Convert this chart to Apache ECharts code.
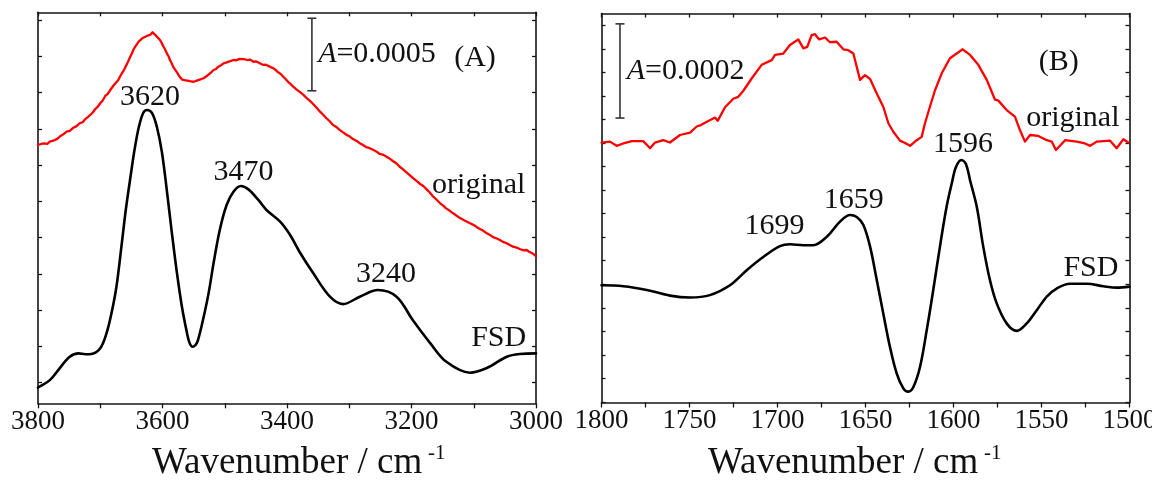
<!DOCTYPE html>
<html>
<head>
<meta charset="utf-8">
<script src="https://cdn.jsdelivr.net/npm/echarts@6/dist/echarts.min.js"></script>
<style>
  html, body { margin: 0; padding: 0; background: #fff; }
  #chart { width: 1152px; height: 484px; }
</style>
</head>
<body>
<div id="chart"></div>
<script>
// ---------- Panel (A): 3800–3000 cm-1 region (absorbance in units of 1e-4, offset) ----------
const wnFsdA = [3800, 3798, 3781, 3765, 3749, 3735, 3724, 3714, 3700, 3690, 3682, 3674, 3666, 3659, 3651, 3645,
  3638, 3631, 3625, 3617, 3609, 3601, 3593, 3585, 3577, 3569, 3561, 3557, 3552, 3547, 3543, 3535, 3526, 3518, 3508, 3497,
  3486, 3474, 3462, 3446, 3433, 3411, 3395, 3379, 3358, 3331, 3310, 3283, 3254, 3224, 3198, 3170, 3144, 3106,
  3079, 3047, 3026, 3000];
const absFsdA = [-0.35, -0.29, 0.17, 1.00, 1.78, 2.01, 1.95, 1.97, 2.36, 3.39, 4.77, 6.61, 9.37, 11.90, 14.31, 16.03,
  17.62, 18.59, 18.79, 18.59, 17.62, 15.90, 13.24, 10.34, 7.62, 5.28, 3.48, 2.79, 2.47, 2.59, 2.93, 4.31, 6.15, 8.22, 10.52, 12.24,
  13.16, 13.55, 13.32, 12.59, 11.90, 11.09, 10.17, 8.95, 7.55, 5.92, 5.41, 5.92, 6.38, 5.92, 4.31, 2.72, 1.43, 0.68,
  1.00, 1.78, 1.97, 2.01];

const wnOrigA = [3800, 3795, 3790, 3785, 3781, 3777, 3773, 3769, 3765, 3760, 3754, 3749, 3744, 3738, 3733, 3728,
  3724, 3720, 3716, 3712, 3708, 3704, 3700, 3696, 3692, 3688, 3684, 3678, 3671, 3668, 3665, 3661, 3658, 3655,
  3652, 3649, 3647, 3644, 3641, 3638, 3636, 3631, 3625, 3620, 3618, 3616, 3613, 3610, 3607, 3604, 3601, 3599,
  3596, 3593, 3590, 3588, 3585, 3583, 3580, 3577, 3573, 3569, 3565, 3562, 3556, 3550, 3546, 3543, 3538, 3534,
  3530, 3527, 3522, 3518, 3514, 3511, 3506, 3502, 3498, 3495, 3490, 3486, 3482, 3479, 3476, 3473, 3469, 3464,
  3459, 3454, 3450, 3447, 3442, 3438, 3434, 3431, 3426, 3422, 3418, 3415, 3410, 3406, 3402, 3398, 3394, 3390,
  3385, 3379, 3374, 3368, 3363, 3358, 3352, 3347, 3342, 3337, 3331, 3326, 3320, 3315, 3310, 3304, 3299, 3294,
  3288, 3283, 3278, 3273, 3267, 3261, 3256, 3251, 3245, 3240, 3235, 3230, 3224, 3219, 3214, 3209, 3203, 3197,
  3192, 3186, 3181, 3176, 3171, 3166, 3160, 3154, 3149, 3145, 3139, 3133, 3128, 3122, 3114, 3106, 3099, 3093,
  3086, 3079, 3074, 3069, 3063, 3058, 3053, 3048, 3042, 3037, 3031, 3026, 3020, 3015, 3011, 3008, 3004, 3000];
const absOrigA = [16.38, 16.45, 16.50, 16.46, 16.61, 16.66, 16.72, 16.80, 16.97, 17.10, 17.30, 17.36, 17.55, 17.68, 17.88, 17.96,
  18.17, 18.30, 18.45, 18.62, 18.86, 19.02, 19.26, 19.45, 19.76, 19.90, 20.17, 20.52, 20.86, 21.12, 21.34, 21.62, 21.90, 22.15,
  22.45, 22.70, 22.93, 23.14, 23.34, 23.52, 23.62, 23.78, 23.90, 23.97, 24.00, 24.15, 24.05, 23.90, 23.82, 23.62, 23.40, 23.21,
  22.98, 22.70, 22.48, 22.24, 22.00, 21.78, 21.60, 21.41, 21.12, 20.91, 20.85, 20.83, 20.78, 20.74, 20.80, 20.83, 20.92, 20.98,
  21.10, 21.21, 21.38, 21.55, 21.62, 21.76, 21.88, 22.01, 22.06, 22.10, 22.18, 22.24, 22.22, 22.28, 22.32, 22.36, 22.30, 22.24,
  22.27, 22.12, 22.15, 22.07, 21.98, 21.90, 21.92, 21.83, 21.75, 21.67, 21.55, 21.41, 21.28, 21.09, 20.92, 20.72, 20.58, 20.40,
  20.22, 20.03, 19.85, 19.60, 19.42, 19.21, 18.93, 18.68, 18.47, 18.24, 18.00, 17.76, 17.60, 17.41, 17.25, 17.07, 16.96, 16.79,
  16.66, 16.50, 16.38, 16.24, 16.16, 16.03, 15.92, 15.76, 15.70, 15.57, 15.44, 15.28, 15.10, 14.88, 14.72, 14.52, 14.31, 14.08,
  13.90, 13.69, 13.55, 13.34, 13.12, 12.86, 12.62, 12.36, 12.20, 12.03, 11.86, 11.67, 11.52, 11.34, 11.16, 10.98, 10.84, 10.66,
  10.50, 10.29, 10.18, 10.03, 9.93, 9.83, 9.70, 9.62, 9.48, 9.37, 9.30, 9.21, 9.12, 9.14, 9.02, 9.00, 8.86, 8.72];

// ---------- Panel (B): 1800–1500 cm-1 region ----------
const wnFsdB = [1800, 1787.6, 1774.3, 1761.1, 1749.7, 1738.4, 1727.0, 1717.5, 1708.1, 1698.6, 1692.9, 1685.3, 1679.7,
  1672.0, 1664.5, 1658.8, 1655.0, 1651.2, 1647.4, 1643.6, 1639.9, 1636.1, 1632.3, 1628.5, 1625.7, 1622.8, 1619.0,
  1615.2, 1611.5, 1607.7, 1603.9, 1601.0, 1598.6, 1595.5, 1592.9, 1590.6, 1586.8, 1583.1, 1579.3, 1575.5, 1569.8,
  1564.1, 1558.4, 1552.7, 1547.0, 1541.4, 1533.8, 1524.3, 1514.9, 1507.3, 1500];
const absFsdB = [2.48, 2.46, 2.38, 2.26, 2.22, 2.27, 2.48, 2.80, 3.08, 3.31, 3.35, 3.33, 3.33,
  3.51, 3.83, 3.97, 3.93, 3.76, 3.30, 2.59, 1.88, 1.17, 0.61, 0.29, 0.22, 0.32, 0.75,
  1.53, 2.38, 3.30, 4.15, 4.64, 4.99, 5.14, 5.05, 4.71, 4.15, 3.30, 2.59, 2.10, 1.67,
  1.51, 1.67, 1.95, 2.24, 2.41, 2.51, 2.51, 2.46, 2.43, 2.45];

const wnOrigB = [1800.0, 1795.2, 1791.4, 1787.6, 1782.8, 1776.3, 1772.4, 1769.6, 1764.9, 1761.1, 1755.4, 1749.7,
  1745.9, 1743.5, 1741.2, 1735.5, 1734.0, 1729.8, 1725.1, 1722.3, 1719.4, 1714.7, 1709.0, 1703.3, 1701.4, 1696.7,
  1692.9, 1688.2, 1685.3, 1683.1, 1680.6, 1678.7, 1676.3, 1673.0, 1670.2, 1666.4, 1662.6, 1659.8, 1656.9, 1653.1,
  1650.3, 1647.4, 1643.6, 1639.9, 1637.0, 1634.2, 1630.4, 1627.5, 1624.7, 1620.9, 1618.1, 1616.2, 1613.4, 1610.5,
  1606.7, 1602.0, 1598.2, 1594.8, 1590.6, 1585.9, 1581.1, 1576.4, 1574.5, 1569.8, 1565.1, 1562.2, 1559.4, 1556.5,
  1551.8, 1547.0, 1544.2, 1541.8, 1536.6, 1530.0, 1525.3, 1522.4, 1518.6, 1511.0, 1507.3, 1503.5, 1500.7];
const absOrigB = [5.51, 5.53, 5.44, 5.49, 5.54, 5.54, 5.39, 5.51, 5.56, 5.51, 5.67, 5.72,
  5.85, 5.88, 5.93, 6.04, 5.97, 6.26, 6.44, 6.48, 6.61, 6.87, 7.16, 7.26, 7.37, 7.40,
  7.58, 7.70, 7.51, 7.54, 7.79, 7.81, 7.70, 7.74, 7.64, 7.65, 7.49, 7.47, 7.40, 6.84,
  6.94, 6.86, 6.55, 6.27, 5.92, 5.74, 5.55, 5.50, 5.44, 5.56, 5.63, 5.92, 6.27, 6.62,
  6.98, 7.30, 7.40, 7.49, 7.37, 7.16, 6.84, 6.42, 6.40, 6.20, 6.06, 5.77, 5.53, 5.67,
  5.65, 5.56, 5.53, 5.35, 5.56, 5.53, 5.49, 5.44, 5.53, 5.55, 5.39, 5.58, 5.51];

// ---------- Axis ranges and tick marks ----------
const xRangeA = [3000, 3800], xStepA = 200;
const xRangeB = [1500, 1800], xStepB = 50;
const yRangeA = [-1.43, 25.53];
const yRangeB = [-0.01, 8.25];
const yTicksA = [0, 2.5, 5, 7.5, 10, 12.5, 15, 17.5, 20, 22.5, 25];
const yTicksB = [0, 0.5, 1, 1.5, 2, 2.5, 3, 3.5, 4, 4.5, 5, 5.5, 6, 6.5, 7, 7.5, 8];

// ---------- Annotations (data coordinates) ----------
const notesA = [
  { text: '3620', wn: 3620, v: 19.69 },
  { text: '3470', wn: 3470, v: 14.52 },
  { text: '3240', wn: 3241, v: 7.48 },
  { text: 'original', wn: 3092, v: 13.62 },
  { text: 'FSD', wn: 3060, v: 3.06 },
  { text: '(A)', wn: 3098, v: 22.37 }
];
const notesB = [
  { text: '1699', wn: 1701.7, v: 3.73 },
  { text: '1659', wn: 1656.7, v: 4.28 },
  { text: '1596', wn: 1594.6, v: 5.48 },
  { text: 'original', wn: 1532.2, v: 6.03 },
  { text: 'FSD', wn: 1521.9, v: 2.85 },
  { text: '(B)', wn: 1540.2, v: 7.21 }
];
// scale bars: absorbance span in units of 1e-4
const scaleA = { label: '0.0005', wn: 3360, v0: 20.12, span: 5, textWn: 3350 };
const scaleB = { label: '0.0002', wn: 1789.5, v0: 6.03, span: 2, textWn: 1785.7 };

const FONT = '"Liberation Serif", "Times New Roman", serif';
const INK = '#141414';
const axisLineStyle = { color: INK, width: 1.6 };
const tickLineStyle = { color: INK, width: 1.3 };

function pairs(xs, ys) { return xs.map((x, i) => [x, ys[i]]); }

function xAxes(grid, range, step) {
  const common = {
    gridIndex: grid, type: 'value', min: range[0], max: range[1], interval: step, inverse: true,
    axisLine: { show: true, onZero: false, lineStyle: axisLineStyle },
    splitLine: { show: false }
  };
  return [
    Object.assign({}, common, {
      position: 'bottom',
      axisTick: { show: true, inside: false, length: 5, lineStyle: tickLineStyle },
      minorTick: { show: true, splitNumber: 2, length: 5, lineStyle: tickLineStyle },
      axisLabel: { show: true, color: '#111', fontFamily: FONT, fontSize: 27, margin: 5,
        hideOverlap: false, formatter: v => String(v) }
    }),
    Object.assign({}, common, {
      position: 'top',
      axisTick: { show: true, inside: true, length: 4, lineStyle: tickLineStyle },
      minorTick: { show: true, splitNumber: 2, length: 4, lineStyle: tickLineStyle },
      axisLabel: { show: false }
    })
  ];
}

function yAxes(grid, range, ticks) {
  return ['left', 'right'].map(pos => ({
    gridIndex: grid, type: 'value', position: pos, min: range[0], max: range[1],
    axisLine: { show: true, onZero: false, lineStyle: axisLineStyle },
    axisTick: { show: true, inside: true, length: 4, customValues: ticks, lineStyle: tickLineStyle },
    axisLabel: { show: false },
    splitLine: { show: false }
  }));
}

function curve(xi, yi, data, color, width, smooth) {
  return {
    type: 'line', xAxisIndex: xi, yAxisIndex: yi, data,
    showSymbol: false, symbol: 'none', smooth, silent: true,
    lineStyle: { color, width, cap: 'round', join: 'round' },
    animation: false
  };
}

const chart = echarts.init(document.getElementById('chart'), null, { renderer: 'canvas' });
chart.setOption({
  backgroundColor: '#fff',
  animation: false,
  grid: [
    { left: 38, top: 12.3, width: 498, height: 391, containLabel: false, outerBoundsMode: 'none' },
    { left: 601.5, top: 13.5, width: 528, height: 389, containLabel: false, outerBoundsMode: 'none' }
  ],
  xAxis: [...xAxes(0, xRangeA, xStepA), ...xAxes(1, xRangeB, xStepB)],
  yAxis: [...yAxes(0, yRangeA, yTicksA), ...yAxes(1, yRangeB, yTicksB)],
  series: [
    curve(0, 0, pairs(wnOrigA, absOrigA), '#ff0000', 2.3, false),
    curve(0, 0, pairs(wnFsdA, absFsdA), '#000000', 2.6, 0.35),
    curve(2, 2, pairs(wnOrigB, absOrigB), '#ff0000', 2.3, false),
    curve(2, 2, pairs(wnFsdB, absFsdB), '#000000', 2.6, 0.35)
  ]
});

// Text and scale bars placed through the axes' own coordinate systems
function toPx(grid, wn, v) {
  return chart.convertToPixel({ xAxisIndex: grid * 2, yAxisIndex: grid * 2 }, [wn, v]);
}

const graphics = [];
function addNotes(grid, notes) {
  notes.forEach(n => {
    const p = toPx(grid, n.wn, n.v);
    graphics.push({
      type: 'text', x: p[0], y: p[1], silent: true,
      style: { text: n.text, fill: '#111', fontFamily: FONT, fontSize: 30, align: 'center', verticalAlign: 'middle' }
    });
  });
}
function addScaleBar(grid, s) {
  const top = toPx(grid, s.wn, s.v0 + s.span);
  const bot = toPx(grid, s.wn, s.v0);
  const stroke = { stroke: '#333', lineWidth: 1.6 };
  graphics.push({ type: 'line', silent: true, shape: { x1: top[0], y1: top[1], x2: bot[0], y2: bot[1] }, style: stroke });
  graphics.push({ type: 'line', silent: true, shape: { x1: top[0] - 4.5, y1: top[1], x2: top[0] + 4.5, y2: top[1] }, style: stroke });
  graphics.push({ type: 'line', silent: true, shape: { x1: bot[0] - 4.5, y1: bot[1], x2: bot[0] + 4.5, y2: bot[1] }, style: stroke });
  const t = toPx(grid, s.textWn, s.v0 + s.span / 2);
  graphics.push({
    type: 'text', x: t[0], y: t[1], silent: true,
    style: {
      text: '{i|A}=' + s.label, fill: '#111', fontFamily: FONT, fontSize: 30, align: 'left', verticalAlign: 'middle',
      rich: { i: { fontStyle: 'italic', fontFamily: FONT, fontSize: 30, fill: '#111' } }
    }
  });
}
addNotes(0, notesA);
addNotes(1, notesB);
addScaleBar(0, scaleA);
addScaleBar(1, scaleB);

// axis titles
[[152, 428], [708, 984]].forEach(([x, sx]) => {
  graphics.push({ type: 'text', x, y: 463.5, silent: true,
    style: { text: 'Wavenumber / cm', fill: '#111', fontFamily: FONT, fontSize: 37, align: 'left', verticalAlign: 'middle' } });
  graphics.push({ type: 'text', x: sx, y: 453, silent: true,
    style: { text: '-1', fill: '#111', fontFamily: FONT, fontSize: 21, align: 'left', verticalAlign: 'middle' } });
});

chart.setOption({ graphic: graphics });
</script>
</body>
</html>
